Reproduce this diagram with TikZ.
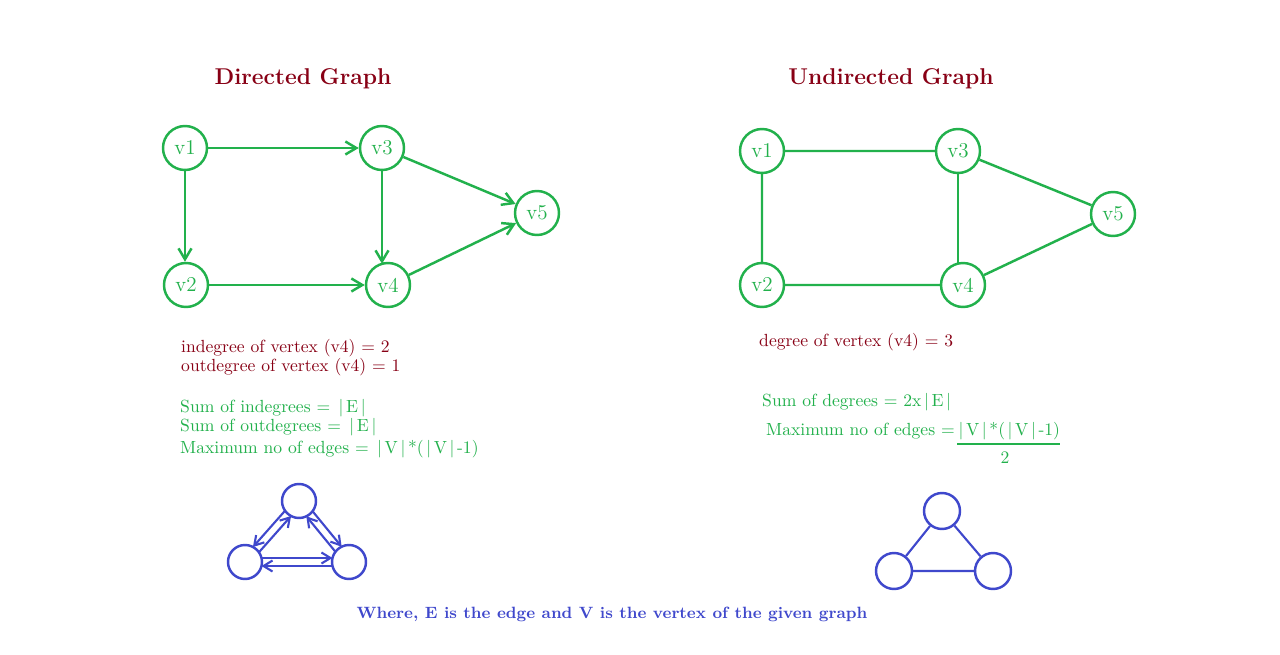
\documentclass[tikz,border=0pt]{standalone}
\usetikzlibrary{calc}
\usetikzlibrary{arrows.meta}
\definecolor{gfgreen}{RGB}{34,177,76}
\definecolor{gfred}{RGB}{136,0,21}
\definecolor{gfblue}{RGB}{63,72,204}
\tikzstyle{every path}=[line width=1.4pt,line join=round]
\tikzstyle{vertex}=[circle,draw=gfgreen,text=gfgreen,minimum size=0.88cm,inner sep=0pt,font=\fontsize{12}{14}\selectfont]
\tikzstyle{dot}=[circle,draw=gfblue,minimum size=0.68cm,inner sep=0pt]
\tikzstyle{title}=[text=gfred,font=\fontsize{13}{15}\selectfont\bfseries]
\tikzstyle{txt}=[anchor=west,inner sep=0pt,font=\fontsize{10}{12}\selectfont]
\newcommand{\vbar}{\kern1.5pt|\kern1.5pt}
\newcommand{\twoway}[4]{
	\draw[barrow] ($(#1)!0.08cm!#3:(#2)$) -- ($(#2)!0.08cm!#4:(#1)$);
	\draw[barrow] ($(#2)!0.08cm!#3:(#1)$) -- ($(#1)!0.08cm!#4:(#2)$);}

\begin{document}
\begin{tikzpicture}[x=0.02cm,y=-0.02cm]
		\tikzstyle{garrow} = [draw=gfgreen,-{Straight Barb[length=2.2mm,width=2.6mm]}]
		\tikzstyle{barrow} = [draw=gfblue,line width=1.2pt,shorten <=0.33cm,shorten >=0.33cm,-{Straight Barb[length=1.8mm,width=2.2mm]}]
		\useasboundingbox[fill=white] (0,0) rectangle (1280,655);
		
		\node[title] (dtitle) at (303,79) {Directed Graph};
		\node[title] (utitle) at (891,79) {Undirected Graph};
		
		\node[vertex] (d1) at (185,148) {v1};
		\node[vertex] (d3) at (382,148) {v3};
		\node[vertex] (d5) at (537,213) {v5};
		\node[vertex] (d2) at (186,285) {v2};
		\node[vertex] (d4) at (388,285) {v4};
		\draw[garrow] (d1) -- (d3);
		\draw[garrow] (d1) -- (d1 |- d2.north);
		\draw[garrow] (d2) -- (d4);
		\draw[garrow] (d3) -- ($(d3 |- d4.north)+(0,2)$);
		\draw[garrow] (d3) -- (d5);
		\draw[garrow] (d4) -- (d5);
		
		\node[vertex] (u1) at (762,151) {v1};
		\node[vertex] (u3) at (958,151) {v3};
		\node[vertex] (u5) at (1113,214) {v5};
		\node[vertex] (u2) at (762,285) {v2};
		\node[vertex] (u4) at (963,285) {v4};
		\draw[gfgreen] (u1) -- (u3) -- (u5) -- (u4) -- (u2) -- (u1);
		\draw[gfgreen] (u3) -- ($(u3 |- u4.north)+(0,1)$);
		
		\node[txt,text=gfred] (indeg) at (180,348) {indegree of vertex (v4) = 2};
		\node[txt,text=gfred] (outdeg) at (180,367) {outdegree of vertex (v4) = 1};
		\node[txt,text=gfgreen] (sumin) at (179,408) {Sum of indegrees = \vbar E\vbar};
		\node[txt,text=gfgreen] (sumout) at (179,427) {Sum of outdegrees = \vbar E\vbar};
		\node[txt,text=gfgreen] (dmax) at (179,449) {Maximum no of edges = \vbar V\vbar*(\vbar V\vbar-1)};
		
		\node[txt,text=gfred] (deg) at (758,342) {degree of vertex (v4) = 3};
		\node[txt,text=gfgreen] (sumdeg) at (761,402) {Sum of degrees = 2x\vbar E\vbar};
		\node[txt,text=gfgreen] (umax) at (765,431) {Maximum no of edges =};
		\node[txt,anchor=center,text=gfgreen] (num) at (1008,431) {\vbar V\vbar*(\vbar V\vbar-1)};
		\node[txt,anchor=center,text=gfgreen] (den) at (1005,458) {2};
		\draw[gfgreen,line width=1.6pt] ($(num.center)+(-51,13)$) -- ($(num.center)+(52,13)$);
		
		\node[dot] (dt) at (299,501) {};
		\node[dot] (dl) at (245,562) {};
		\node[dot] (dr) at (349,562) {};
		\twoway{dl}{dt}{-90}{90}
		\twoway{dt}{dr}{90}{-90}
		\twoway{dl}{dr}{90}{-90}
		
		\node[dot,minimum size=0.72cm] (ut) at (942,511) {};
		\node[dot,minimum size=0.72cm] (ul) at (894,571) {};
		\node[dot,minimum size=0.72cm] (ur) at (993,571) {};
		\draw[gfblue,line width=1.2pt] (ut) -- (ul) -- (ur) -- (ut);
		
		\node[text=gfblue,font=\fontsize{9.3}{11}\selectfont\bfseries] (note) at (612,614) {Where, E is the edge and V is the vertex of the given graph};
		
	\end{tikzpicture}
\end{document}
